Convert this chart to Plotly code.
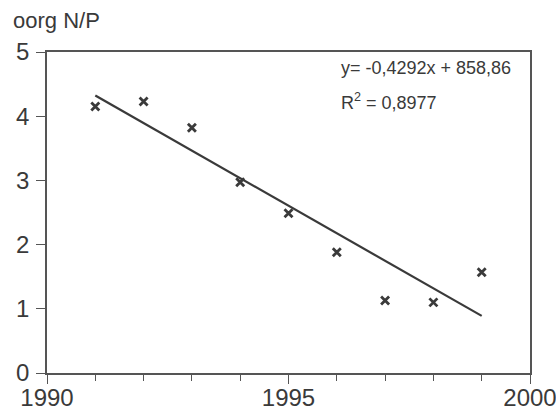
import plotly.graph_objects as go

# Organic N/P ratio per year
years = [1991, 1992, 1993, 1994, 1995, 1996, 1997, 1998, 1999]
ratio = [4.15, 4.23, 3.82, 2.97, 2.49, 1.88, 1.13, 1.10, 1.57]

# Linear trend coefficients
slope = -0.4292
intercept = 858.86
r_squared = 0.8977

trend_x = [years[0], years[-1]]
trend_y = [slope * x + intercept for x in trend_x]

ink = "#3a3a3a"
axis_col = "#555555"
font = "Liberation Sans, Arial, sans-serif"

fig = go.Figure()

fig.add_trace(go.Scatter(
    x=trend_x, y=trend_y, mode="lines",
    line=dict(color=ink, width=2.2),
    hoverinfo="skip", showlegend=False,
))

fig.add_trace(go.Scatter(
    x=years, y=ratio, mode="markers",
    marker=dict(symbol="x-thin", size=8, line=dict(color=ink, width=2.8)),
    showlegend=False,
))

fig.update_layout(
    width=556, height=410,
    margin=dict(l=47, r=26, t=52, b=37, autoexpand=False),
    paper_bgcolor="white", plot_bgcolor="white",
    font=dict(family=font, color=ink),
    xaxis=dict(
        range=[1990, 2000], automargin=False,
        tickvals=[1990, 1995, 2000],
        ticks="outside", ticklen=9, tickwidth=1.3, tickcolor=axis_col,
        minor=dict(dtick=1, tick0=1990, ticks="outside", ticklen=6,
                   tickwidth=1.3, tickcolor=axis_col, showgrid=False),
        showline=True, linecolor=axis_col, linewidth=1.5, mirror=True,
        showgrid=False, zeroline=False,
        tickfont=dict(size=24, color=ink),
        ticklabelstandoff=-7,
        ticklabeloverflow="allow",
    ),
    yaxis=dict(
        range=[0, 5], dtick=1, automargin=False,
        ticks="outside", ticklen=9, tickwidth=1.3, tickcolor=axis_col,
        showline=True, linecolor=axis_col, linewidth=1.5, mirror=True,
        showgrid=False, zeroline=False,
        tickfont=dict(size=24, color=ink),
        ticklabelstandoff=2,
    ),
    annotations=[
        dict(text="oorg N/P", xref="paper", yref="paper",
             x=-0.0745, y=1.098, xanchor="left", yanchor="middle",
             showarrow=False, font=dict(size=22, color=ink)),
        dict(text=f"y= {slope:.4f}x + {intercept:.2f}".replace(".", ","),
             xref="paper", yref="paper", x=0.605, y=0.950,
             xanchor="left", yanchor="middle",
             showarrow=False, font=dict(size=18, color=ink)),
        dict(text=f"R<sup>2</sup> = {r_squared:.4f}".replace(".", ","),
             xref="paper", yref="paper", x=0.605, y=0.845,
             xanchor="left", yanchor="middle",
             showarrow=False, font=dict(size=18, color=ink)),
    ],
)

fig.write_html("out.html")
